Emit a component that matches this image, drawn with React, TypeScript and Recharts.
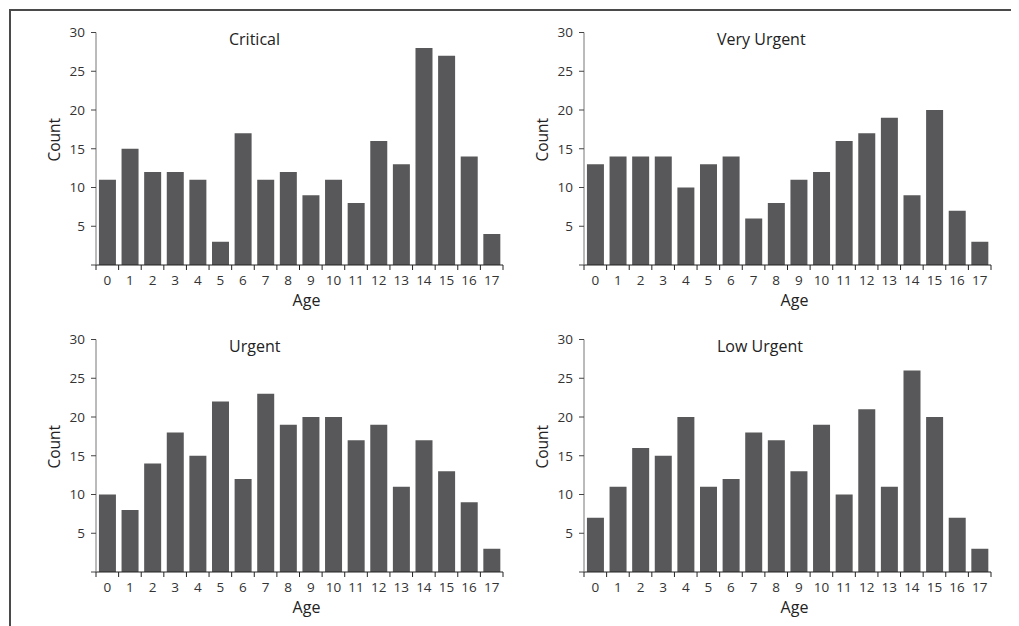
import React from "react";
import { Bar, BarChart, Label, XAxis, YAxis } from "recharts";

// age categories shared by every panel
const ages = ["0", "1", "2", "3", "4", "5", "6", "7", "8", "9", "10", "11", "12", "13", "14", "15", "16", "17"];

const critical = [11, 15, 12, 12, 11, 3, 17, 11, 12, 9, 11, 8, 16, 13, 28, 27, 14, 4];
const veryUrgent = [13, 14, 14, 14, 10, 13, 14, 6, 8, 11, 12, 16, 17, 19, 9, 20, 7, 3];
const urgent = [10, 8, 14, 18, 15, 22, 12, 23, 19, 20, 20, 17, 19, 11, 17, 13, 9, 3];
const lowUrgent = [7, 11, 16, 15, 20, 11, 12, 18, 17, 13, 19, 10, 21, 11, 26, 20, 7, 3];

const yTicks = [0, 5, 10, 15, 20, 25, 30];

const CHART_W = 500;
const CHART_H = 305;
const MARGIN = { top: 24.5, right: 5, bottom: 2, left: 48 };
const Y_W = 40;
const X_H = 46;
const PLOT_W = CHART_W - MARGIN.left - MARGIN.right - Y_W;
const BAND = PLOT_W / ages.length;

const FONT = "'Open Sans', 'Noto Sans', sans-serif";
const BAR_COLOR = "#58585a";

function XTick(props: any) {
  const { x, y, payload, index } = props;
  const half = BAND / 2;
  const last = index === ages.length - 1 || payload.value === ages[ages.length - 1];
  return (
    <g>
      <line x1={x - half} x2={x - half} y1={y} y2={y + 5} stroke="#222" />
      {last && <line x1={x + half} x2={x + half} y1={y} y2={y + 5} stroke="#222" />}
      <text x={x} y={y + 20} textAnchor="middle" fontSize={13.5} fill="#333" fontFamily={FONT}>
        {payload.value}
      </text>
    </g>
  );
}

function Panel({ title, values }: { title: string; values: number[] }) {
  const data = ages.map((age, i) => ({ age, count: values[i] }));
  return (
    <BarChart width={CHART_W} height={CHART_H} data={data} margin={MARGIN} barCategoryGap="13%">
      <XAxis
        dataKey="age"
        height={X_H}
        stroke="#222"
        tickLine={false}
        tickSize={0}
        tickMargin={0}
        interval={0}
        tick={<XTick />}
      >
        <Label
          content={(p: any) => {
            const vb = p.viewBox;
            return (
              <text
                x={vb.x + vb.width / 2 + 7}
                y={vb.y + 41}
                textAnchor="middle"
                fontSize={16}
                fill="#222"
                fontFamily={FONT}
              >
                Age
              </text>
            );
          }}
        />
      </XAxis>
      <YAxis
        width={Y_W}
        domain={[0, 30]}
        ticks={yTicks}
        interval={0}
        axisLine={{ stroke: "#777" }}
        tickLine={{ stroke: "#444" }}
        tickSize={5}
        tickMargin={6}
        tickFormatter={(v: number) => (v === 0 ? "" : String(v))}
        tick={{ fontSize: 13.5, fill: "#333", fontFamily: FONT }}
      >
        <Label
          content={(p: any) => {
            const vb = p.viewBox;
            const cx = vb.x - 2;
            const cy = vb.y + vb.height / 2 - 9;
            return (
              <text
                x={cx}
                y={cy}
                transform={`rotate(-90, ${cx}, ${cy})`}
                textAnchor="middle"
                dominantBaseline="central"
                fontSize={15.5}
                fill="#222"
                fontFamily={FONT}
              >
                Count
              </text>
            );
          }}
        />
        <Label
          content={(p: any) => {
            const vb = p.viewBox;
            return (
              <text
                x={vb.x + vb.width + 133}
                y={vb.y + 12.5}
                textAnchor="start"
                fontSize={16}
                fill="#222"
                fontFamily={FONT}
              >
                {title}
              </text>
            );
          }}
        />
      </YAxis>
      <Bar dataKey="count" fill={BAR_COLOR} isAnimationActive={false} />
    </BarChart>
  );
}

export default function App() {
  return (
    <div
      style={{
        position: "relative",
        width: 1011,
        height: 618,
        overflow: "hidden",
        background: "#fff",
        fontFamily: FONT,
      }}
    >
      <div
        style={{
          position: "absolute",
          left: 1,
          top: 1,
          width: 1200,
          height: 1200,
          border: "2px solid #4a4a4a",
        }}
      />
      <div style={{ position: "absolute", left: 0, top: 0 }}>
        <Panel title="Critical" values={critical} />
      </div>
      <div style={{ position: "absolute", left: 488, top: 0 }}>
        <Panel title="Very Urgent" values={veryUrgent} />
      </div>
      <div style={{ position: "absolute", left: 0, top: 307 }}>
        <Panel title="Urgent" values={urgent} />
      </div>
      <div style={{ position: "absolute", left: 488, top: 307 }}>
        <Panel title="Low Urgent" values={lowUrgent} />
      </div>
    </div>
  );
}
